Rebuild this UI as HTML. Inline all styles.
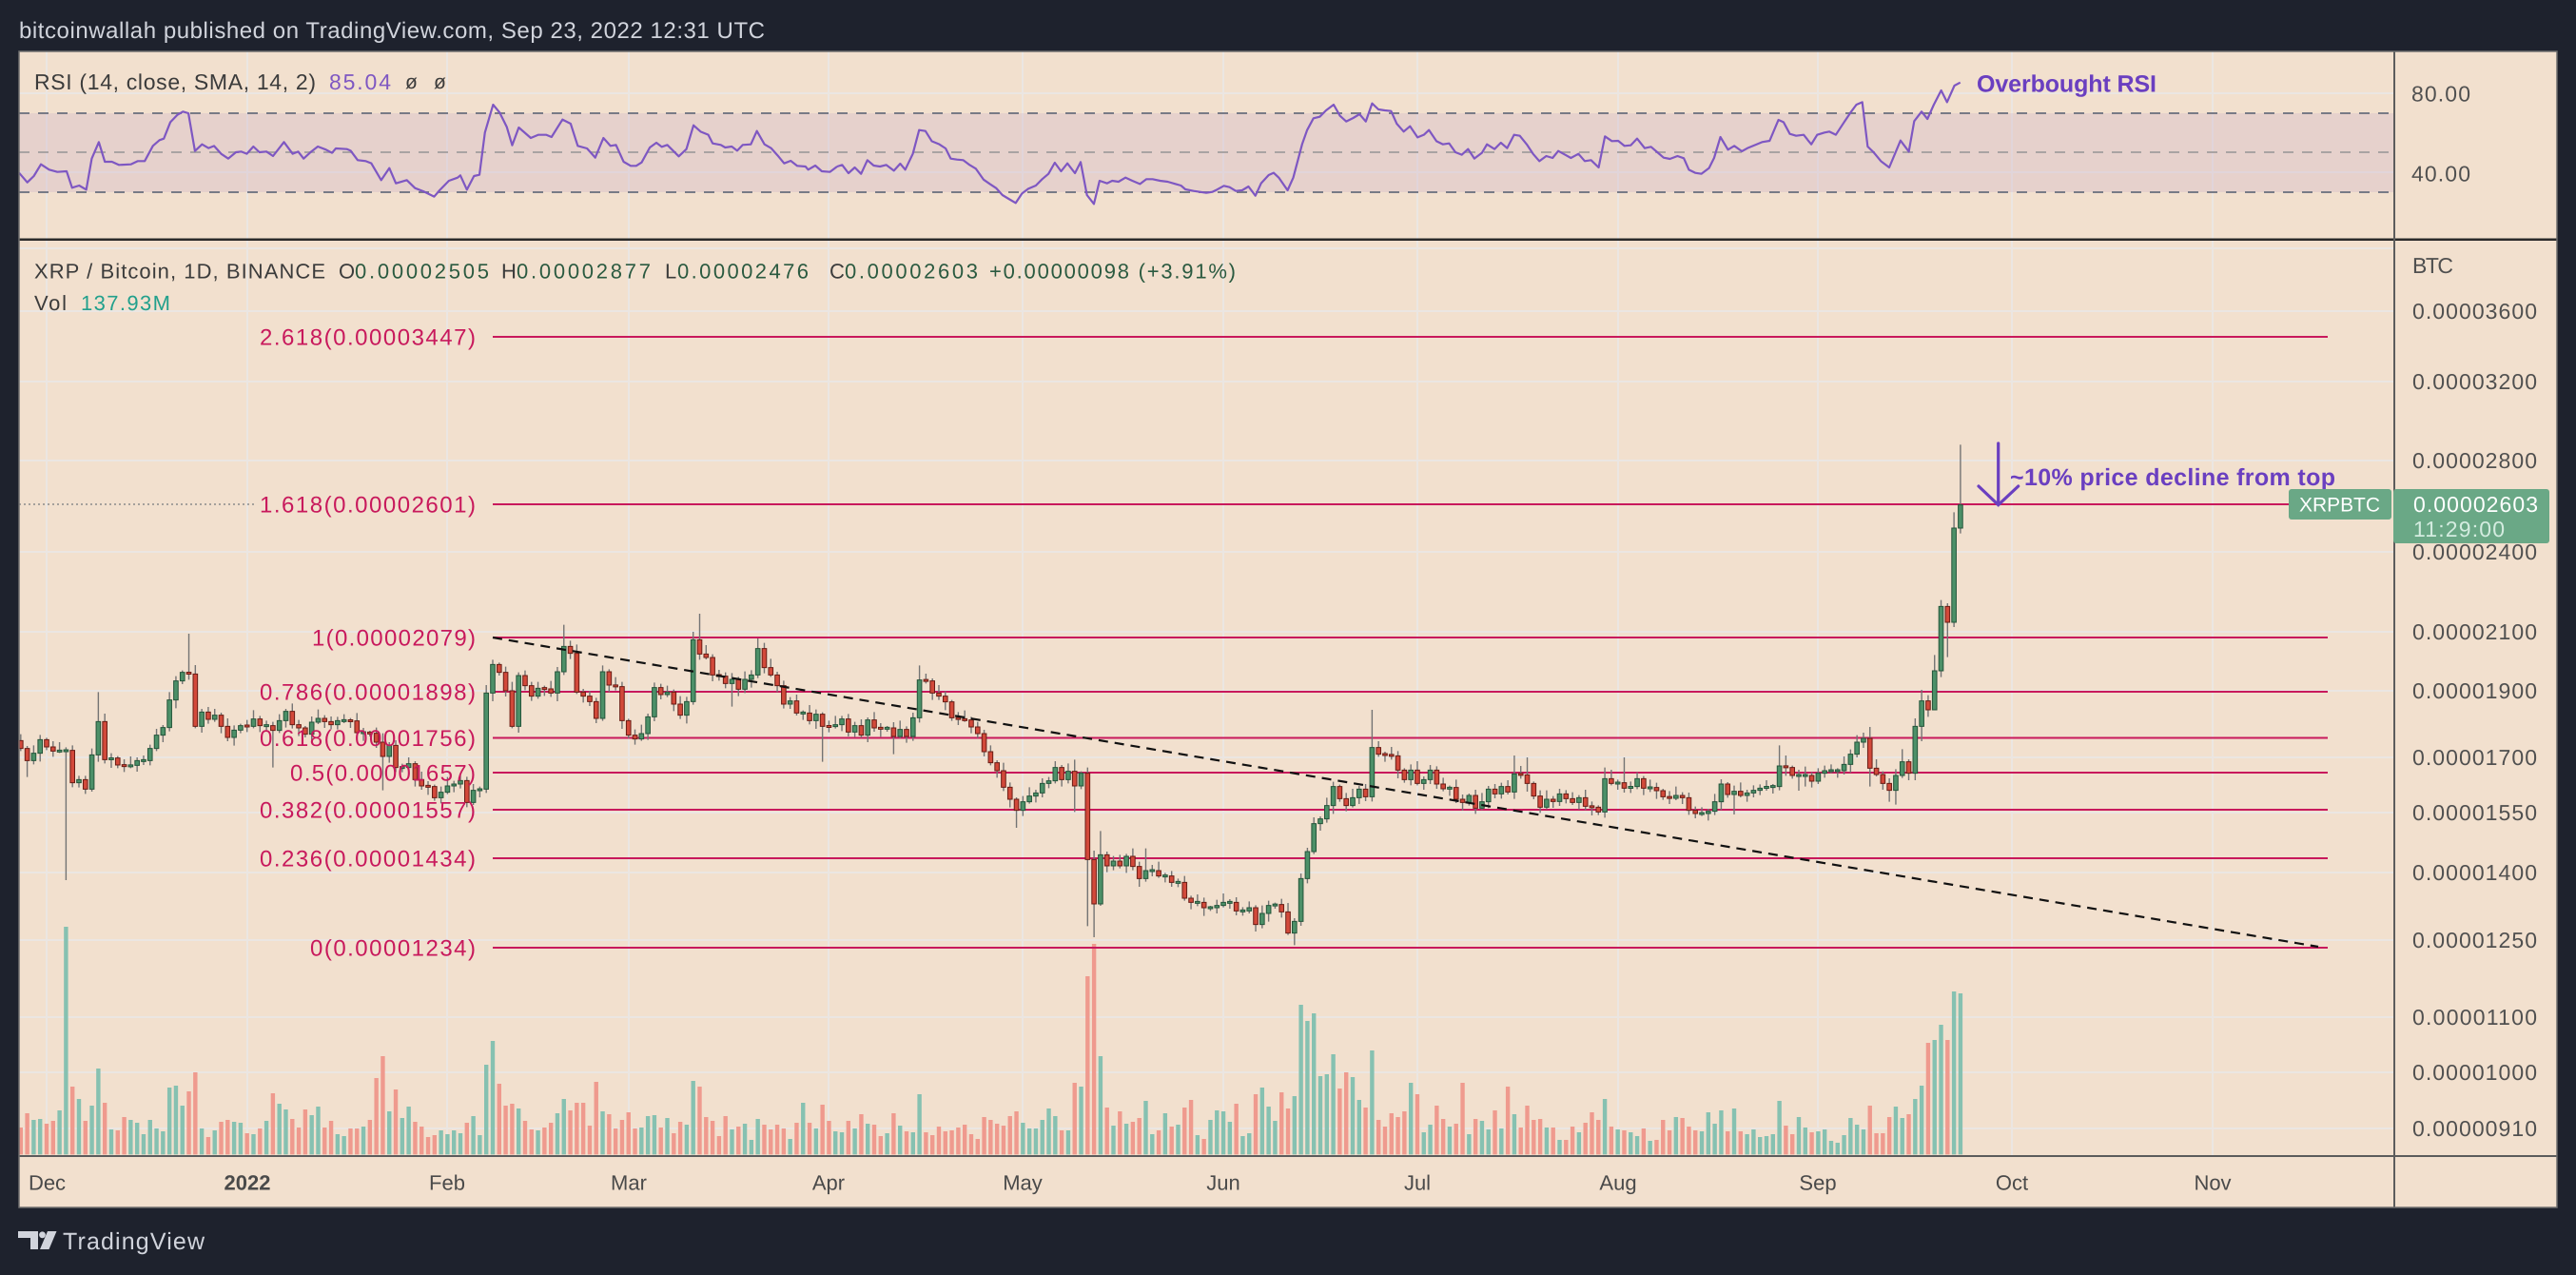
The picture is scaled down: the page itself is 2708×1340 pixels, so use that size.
<!DOCTYPE html>
<html><head><meta charset="utf-8">
<style>html,body{margin:0;padding:0;background:#1e222d;overflow:hidden}svg{display:block}</style>
</head>
<body>
<svg xmlns="http://www.w3.org/2000/svg" width="2708" height="1340" viewBox="0 0 2708 1340" font-family="'Liberation Sans', Arial, sans-serif" text-rendering="geometricPrecision">
<rect width="2708" height="1340" fill="#1e222d"/>
<text x="20" y="40" font-size="24" fill="#d1d4dc" textLength="784">bitcoinwallah published on TradingView.com, Sep 23, 2022 12:31 UTC</text>
<rect x="20" y="54" width="2668" height="1215" fill="#f2e0ce"/>

<!-- grid -->
<g stroke="#ebe6e2" stroke-width="2">
<line x1="20" y1="98" x2="2517" y2="98"/><line x1="20" y1="181" x2="2517" y2="181"/>
<line x1="20" y1="261" x2="2517" y2="261"/><line x1="20" y1="327" x2="2517" y2="327"/>
<line x1="20" y1="401" x2="2517" y2="401"/><line x1="20" y1="484" x2="2517" y2="484"/>
<line x1="20" y1="580" x2="2517" y2="580"/><line x1="20" y1="664" x2="2517" y2="664"/>
<line x1="20" y1="726" x2="2517" y2="726"/><line x1="20" y1="796" x2="2517" y2="796"/>
<line x1="20" y1="854" x2="2517" y2="854"/><line x1="20" y1="917" x2="2517" y2="917"/>
<line x1="20" y1="988" x2="2517" y2="988"/><line x1="20" y1="1069" x2="2517" y2="1069"/>
<line x1="20" y1="1127" x2="2517" y2="1127"/><line x1="20" y1="1186" x2="2517" y2="1186"/>
<line x1="49" y1="54" x2="49" y2="1215"/><line x1="260" y1="54" x2="260" y2="1215"/>
<line x1="470" y1="54" x2="470" y2="1215"/><line x1="661" y1="54" x2="661" y2="1215"/>
<line x1="871" y1="54" x2="871" y2="1215"/><line x1="1075" y1="54" x2="1075" y2="1215"/>
<line x1="1286" y1="54" x2="1286" y2="1215"/><line x1="1490" y1="54" x2="1490" y2="1215"/>
<line x1="1701" y1="54" x2="1701" y2="1215"/><line x1="1911" y1="54" x2="1911" y2="1215"/>
<line x1="2115" y1="54" x2="2115" y2="1215"/><line x1="2326" y1="54" x2="2326" y2="1215"/>
</g>

<!-- RSI band -->
<rect x="20" y="119" width="2497" height="83" fill="rgb(201,176,200)" fill-opacity="0.3"/>
<line x1="20" y1="119" x2="2517" y2="119" stroke="#787b86" stroke-width="2" stroke-dasharray="11 9"/>
<line x1="20" y1="160" x2="2517" y2="160" stroke="#a9a3a3" stroke-width="2" stroke-dasharray="11 9"/>
<line x1="20" y1="202" x2="2517" y2="202" stroke="#787b86" stroke-width="2" stroke-dasharray="11 9"/>

<!-- RSI line -->
<g fill="none" stroke="#7e57c2" stroke-width="2.2" stroke-linejoin="round">
<polyline vector-effect="non-scaling-stroke" transform="scale(0.574053,0.333333)" points="35,545 50,575 62,555 75,518 90,535 105,542 122,540 132,592 145,585 158,598 168,500 181,448 192,510 205,510 218,520 240,518 252,508 265,508 280,460 292,442 300,437 312,385 325,362 335,352 345,357 357,476 370,455 382,467 392,460 405,485 418,500 432,480 442,478 452,485 464,462 475,480 488,478 500,492 520,448 536,485 546,478 556,500 570,478 582,462 597,472 608,482 615,468 635,470 642,475 655,505 670,508 680,515 698,568 713,530 725,578 745,568 760,593 775,603 795,620 805,600 822,570 838,560 843,553 855,598 868,555 878,551 888,418 903,330 915,355 928,400 938,458 950,402 972,435 986,425 1000,425 1010,432 1030,377 1045,390 1058,460 1075,468 1090,497 1105,435 1118,460 1128,457 1142,510 1155,523 1165,523 1175,512 1190,465 1202,450 1212,463 1222,457 1243,493 1257,470 1270,395 1283,415 1297,425 1305,452 1320,457 1328,465 1340,462 1350,475 1360,457 1375,455 1386,413 1400,455 1412,467 1424,490 1436,515 1448,507 1460,523 1475,525 1480,535 1493,522 1505,540 1520,542 1533,525"/>
<polyline vector-effect="non-scaling-stroke" transform="translate(880,60) scale(0.663262,0.333333)" points="0,345 8,340 18,366 28,348 38,368 48,325 58,342 68,345 78,340 90,358 100,336 108,355 120,305 130,230 140,233 150,265 162,275 172,288 180,320 190,323 200,325 210,340 220,352 232,386 242,400 252,413 262,435 272,447 283,460 293,430 303,415 315,405 325,385 335,368 345,333 355,360 365,335 377,366 386,331 396,435 407,463 416,390 428,398 436,390 446,393 457,380 468,390 480,400 490,385 500,385 512,390 524,393 536,400 545,405 552,417 565,422 575,425 585,428 595,425 602,418 613,406 622,410 632,422 642,420 652,408 663,437 672,398 684,372 692,365 700,380 714,420 723,380 737,275 745,230 755,193 765,188 775,168 787,150 797,185 807,203 818,192 828,180 838,203 848,146 858,165 868,168 878,170 887,210 898,235 908,218 920,253 930,245 938,230 950,265 960,275 970,272 980,300 990,308 1000,290 1010,320 1022,302 1030,275 1042,290 1052,270 1062,287 1073,245 1082,248 1093,275 1103,305 1113,328 1124,312 1134,318 1143,296 1154,308 1163,318 1175,305 1185,328 1195,325 1207,348 1217,250 1228,265 1238,264 1248,280 1258,278 1268,257 1280,287 1290,283 1300,300 1310,317 1320,321 1332,312 1342,319 1350,355 1360,365 1370,368 1382,350 1390,318 1400,252 1412,292 1422,280 1434,297 1444,286 1455,277 1466,268 1478,264 1492,198 1500,205 1510,242 1520,248 1532,245 1538,260"/>
<polyline vector-effect="non-scaling-stroke" transform="translate(1900,0) scale(0.515198,0.333333)" points="0,440 8,455 20,425 35,418 45,415 58,425 72,392 88,355 100,330 112,322 123,462 135,480 150,508 167,528 190,443 207,478 218,382 233,352 245,375 258,330 273,285 285,322 300,270 312,260"/>
</g>

<text x="36" y="94" font-size="23" fill="#3b3b3b" textLength="296">RSI (14, close, SMA, 14, 2)</text>
<text x="346" y="94" font-size="23" fill="#7e57c2" textLength="65">85.04</text>
<text x="426" y="93" font-size="21" fill="#3b3b3b">ø</text>
<text x="456" y="93" font-size="21" fill="#3b3b3b">ø</text>
<text x="2078" y="96.7" font-size="25" font-weight="bold" fill="#6a3fc0" textLength="189">Overbought RSI</text>

<!-- volume -->
<g transform="translate(21.812,960) scale(6.797,0.333333)" fill="none" stroke-width="4.4">
<path vector-effect="non-scaling-stroke" stroke="#86c1b1" d="M2 651V760M3 648V760M6 621V760M7 42V760M9 585V760M11 606V760M12 489V760M14 681V760M17 651V760M18 660V760M19 696V760M20 651V760M21 678V760M22 687V760M23 549V760M24 543V760M25 606V760M28 678V760M30 684V760M33 657V760M34 660V760M36 696V760M38 654V760M40 600V760M41 618V760M45 636V760M46 609V760M49 696V760M50 702V760M53 672V760M57 624V760M59 645V760M60 609V760M65 684V760M66 696V760M67 684V760M68 693V760M70 639V760M71 699V760M72 477V760M73 402V760M77 615V760M80 684V760M83 630V760M84 585V760M90 624V760M96 675V760M97 639V760M98 636V760M100 645V760M103 666V760M104 528V760M110 681V760M112 663V760M113 714V760M114 648V760M119 711V760M121 597V760M123 678V760M126 687V760M127 690V760M129 678V760M131 663V760M134 693V760M136 669V760M138 690V760M139 570V760M155 660V760M156 678V760M157 678V760M158 651V760M159 615V760M160 639V760M162 684V760M164 546V760M167 450V760M169 669V760M171 663V760M174 591V760M175 696V760M177 630V760M179 666V760M182 699V760M184 651V760M185 621V760M186 624V760M187 657V760M189 702V760M190 693V760M192 549V760M193 609V760M194 654V760M197 576V760M198 288V760M199 339V760M200 315V760M201 513V760M202 507V760M203 444V760M206 516V760M207 588V760M209 432V760M215 534V760M217 690V760M218 666V760M221 672V760M224 696V760M226 654V760M227 681V760M229 678V760M231 633V760M236 675V760M238 714V760M241 690V760M245 585V760M247 681V760M249 690V760M250 702V760M252 717V760M256 642V760M260 687V760M261 627V760M262 663V760M263 621V760M265 615V760M267 696V760M268 681V760M269 705V760M270 702V760M271 696V760M272 591V760M275 642V760M276 675V760M278 687V760M279 681V760M280 717V760M281 723V760M282 699V760M283 645V760M284 666V760M285 681V760M290 609V760M291 645V760M293 585V760M294 543V760M296 399V760M297 351V760M299 246V760M300 252V760"/>
<path vector-effect="non-scaling-stroke" stroke="#ef9a8e" d="M0 675V760M1 630V760M4 663V760M5 654V760M8 546V760M10 654V760M13 597V760M15 684V760M16 642V760M26 561V760M27 501V760M29 705V760M31 657V760M32 651V760M35 693V760M37 678V760M39 567V760M42 648V760M43 675V760M44 618V760M47 675V760M48 654V760M51 678V760M52 678V760M54 651V760M55 519V760M56 450V760M58 555V760M61 657V760M62 672V760M63 705V760M64 699V760M69 660V760M74 537V760M75 606V760M76 600V760M78 654V760M79 681V760M81 675V760M82 660V760M85 621V760M86 597V760M87 597V760M88 669V760M89 531V760M91 633V760M92 678V760M93 651V760M94 627V760M95 678V760M99 675V760M101 693V760M102 657V760M105 546V760M106 642V760M107 654V760M108 702V760M109 639V760M111 672V760M115 666V760M116 681V760M117 666V760M118 678V760M120 660V760M122 660V760M124 603V760M125 654V760M128 654V760M130 633V760M132 666V760M133 702V760M135 630V760M137 687V760M140 690V760M141 699V760M142 672V760M143 687V760M144 684V760M145 675V760M146 666V760M147 696V760M148 711V760M149 642V760M150 651V760M151 663V760M152 669V760M153 639V760M154 624V760M161 684V760M163 534V760M165 198V760M166 96V760M168 612V760M170 624V760M172 657V760M173 645V760M176 684V760M178 672V760M180 612V760M181 588V760M183 711V760M188 600V760M191 570V760M195 564V760M196 615V760M204 552V760M205 501V760M208 612V760M210 651V760M211 672V760M212 630V760M213 642V760M214 624V760M216 570V760M219 606V760M220 648V760M222 663V760M223 534V760M225 648V760M228 621V760M230 546V760M232 675V760M233 606V760M234 651V760M235 648V760M237 675V760M239 714V760M240 672V760M242 660V760M243 627V760M244 651V760M246 672V760M248 684V760M251 678V760M253 714V760M254 651V760M255 684V760M257 645V760M258 672V760M259 684V760M264 687V760M266 687V760M273 669V760M274 696V760M277 690V760M286 606V760M287 693V760M288 693V760M289 642V760M292 633V760M295 408V760M298 399V760"/>
</g>

<!-- fib lines -->
<g stroke="#c8195c" stroke-width="2">
<line x1="518" y1="354" x2="2447" y2="354"/>
<line x1="518" y1="530" x2="2447" y2="530"/>
<line x1="518" y1="670" x2="2447" y2="670"/>
<line x1="518" y1="727" x2="2447" y2="727"/>
<line x1="518" y1="775.5" x2="2447" y2="775.5"/>
<line x1="518" y1="812" x2="2447" y2="812"/>
<line x1="518" y1="851" x2="2447" y2="851"/>
<line x1="518" y1="902" x2="2447" y2="902"/>
<line x1="518" y1="996" x2="2447" y2="996"/>
</g>
<line x1="20" y1="530" x2="270" y2="530" stroke="#8a8a8a" stroke-width="1.5" stroke-dasharray="2 3"/>

<!-- candles -->
<g transform="translate(21.812,640) scale(6.797,0.333333)">
<path vector-effect="non-scaling-stroke" fill="none" stroke="#747474" stroke-width="1.4" d="M0 395V448M1 432V530M2 430V490M3 397V481M4 406V445M5 417V466M6 420V454M7 436V855M8 430V562M9 526V563M10 526V583M11 440V576M12 262V482M13 330V487M14 455V501M15 464V502M16 474V514M17 465V502M18 468V513M19 462V492M20 428V493M21 378V448M22 366V420M23 262V386M24 212V313M25 194V237M26 78V223M27 177V376M28 315V390M29 309V362M30 315V356M31 327V392M32 345V417M33 367V431M34 362V392M35 350V388M36 319V376M37 337V388M38 352V382M39 356V500M40 332V391M41 315V374M42 298V377M43 350V401M44 369V405M45 339V413M46 317V363M47 335V375M48 339V379M49 340V380M50 332V360M51 344V375M52 328V402M53 375V416M54 384V402M55 374V438M56 392V572M57 420V485M58 414V514M59 488V515M60 468V508M61 480V560M62 513V570M63 543V586M64 554V605M65 560V613M66 530V584M67 542V578M68 525V566M69 529V625M70 552V618M71 560V594M72 240V580M73 160V291M74 169V210M75 182V276M76 230V376M77 200V390M78 194V256M79 230V290M80 230V283M81 242V274M82 227V277M83 183V291M84 50V208M85 100V158M86 112V268M87 252V295M88 259V306M89 280V360M90 178V353M91 190V262M92 215V257M93 230V378M94 346V408M95 380V428M96 365V416M97 330V413M98 232V354M99 236V285M100 242V278M101 254V322M102 275V347M103 277V361M104 72V302M105 15V160M106 114V159M107 143V228M108 192V226M109 200V250M110 202V308M111 214V275M112 197V265M113 193V248M114 93V218M115 107V203M116 157V214M117 198V262M118 226V314M119 278V315M120 270V336M121 320V350M122 303V364M123 317V378M124 326V482M125 352V389M126 337V377M127 337V385M128 331V402M129 356V403M130 348V406M131 342V420M132 325V387M133 360V403M134 369V387M135 357V458M136 352V408M137 370V422M138 327V416M139 178V358M140 204V235M141 219V287M142 240V287M143 260V319M144 287V353M145 325V366M146 320V356M147 340V392M148 356V407M149 381V465M150 430V493M151 477V532M152 485V574M153 547V626M154 594V690M155 590V653M156 562V614M157 570V610M158 534V594M159 530V565M160 480V550M161 492V560M162 487V550M163 475V640M164 512V568M165 500V1000M166 762V1035M167 700V936M168 765V830M169 779V824M170 775V818M171 772V832M172 755V824M173 797V876M174 755V860M175 807V843M176 797V848M177 832V862M178 826V876M179 850V877M180 842V920M181 904V947M182 900V937M183 910V968M184 936V952M185 917V960M186 897V941M187 915V945M188 909V966M189 940V967M190 922V960M191 934V1017M192 935V1007M193 920V986M194 926V945M195 914V973M196 927V1028M197 975V1060M198 834V999M199 753V865M200 657V773M201 654V699M202 595V674M203 545V646M204 554V608M205 580V638M206 567V626M207 558V615M208 552V606M209 318V607M210 417V466M211 450V482M212 435V475M213 448V534M214 502V548M215 490V556M216 480V556M217 528V570M218 492V552M219 496V567M220 532V575M221 557V589M222 538V612M223 585V636M224 582V620M225 570V646M226 580V634M227 558V628M228 552V597M229 548V598M230 540V585M231 462V599M232 495V535M233 468V576M234 544V600M235 572V643M236 572V631M237 590V627M238 567V621M239 571V613M240 578V618M241 587V632M242 570V634M243 607V651M244 619V650M245 500V658M246 507V556M247 538V570M248 468V579M249 544V580M250 515V568M251 527V587M252 538V577M253 548V599M254 567V602M255 574V615M256 560V603M257 578V615M258 579V649M259 623V660M260 625V653M261 630V667M262 583V650M263 537V634M264 546V595M265 557V648M266 547V594M267 570V608M268 556V594M269 553V587M270 540V573M271 552V582M272 430V572M273 462V526M274 494V535M275 507V573M276 497V560M277 515V563M278 502V552M279 494V532M280 490V518M281 502V532M282 465V522M283 443V516M284 398V468M285 390V438M286 372V560M287 474V528M288 512V570M289 534V608M290 505V617M291 442V533M292 474V540M293 345V540M294 255V417M295 272V340M296 145V240M297 -28V215M298 -18V152M299 -305V57M300 -518V-238"/>
<path vector-effect="non-scaling-stroke" fill="#4c9068" stroke="#24553a" stroke-width="1" d="M1.66 455h.68V478h-.68zM2.66 412h.68V455h-.68zM5.66 445h.68V451h-.68zM6.66 444h.68V450h-.68zM8.66 538h.68V548h-.68zM10.66 460h.68V568h-.68zM11.66 355h.68V460h-.68zM13.66 469.5h.68V475.5h-.68zM16.66 491.5h.68V497.5h-.68zM17.66 478h.68V493h-.68zM18.66 475h.68V481h-.68zM19.66 440h.68V478h-.68zM20.66 398h.68V440h-.68zM21.66 374h.68V398h-.68zM22.66 287h.68V374h-.68zM23.66 227h.68V287h-.68zM24.66 200h.68V227h-.68zM27.66 325h.68V370h-.68zM29.66 335h.68V348h-.68zM32.66 382h.68V405h-.68zM33.66 368h.68V382h-.68zM35.66 347h.68V370h-.68zM37.66 365h.68V371h-.68zM39.66 352h.68V383h-.68zM40.66 323h.68V352h-.68zM44.66 357h.68V395h-.68zM45.66 345h.68V357h-.68zM48.66 352h.68V365h-.68zM49.66 349h.68V355h-.68zM52.66 387h.68V393h-.68zM56.66 430h.68V465h-.68zM58.66 497h.68V503h-.68zM59.66 488h.68V500h-.68zM64.66 578h.68V595h-.68zM65.66 558h.68V578h-.68zM66.66 552h.68V558h-.68zM67.66 541h.68V552h-.68zM69.66 572h.68V610h-.68zM70.66 567h.68V573h-.68zM71.66 265h.68V568h-.68zM72.66 175h.68V265h-.68zM76.66 210h.68V370h-.68zM79.66 250h.68V275h-.68zM82.66 198h.68V265h-.68zM83.66 118h.68V198h-.68zM89.66 198h.68V345h-.68zM95.66 393h.68V410h-.68zM96.66 340h.68V393h-.68zM97.66 248h.68V340h-.68zM99.66 262h.68V270h-.68zM102.66 292h.68V335h-.68zM103.66 97h.68V292h-.68zM109.66 222h.68V235h-.68zM111.66 222h.68V253h-.68zM112.66 208h.68V222h-.68zM113.66 125h.68V208h-.68zM118.66 290h.68V300h-.68zM120.66 325h.68V331h-.68zM122.66 332h.68V352h-.68zM125.66 365h.68V371h-.68zM126.66 347h.68V365h-.68zM128.66 368h.68V388h-.68zM130.66 350h.68V398h-.68zM133.66 373h.68V379h-.68zM135.66 380h.68V402h-.68zM137.66 343h.68V402h-.68zM138.66 224h.68V343h-.68zM154.66 608h.68V635h-.68zM155.66 590h.68V608h-.68zM156.66 580h.68V590h-.68zM157.66 550h.68V580h-.68zM158.66 542h.68V550h-.68zM159.66 500h.68V542h-.68zM161.66 512h.68V538h-.68zM163.66 518h.68V558h-.68zM166.66 775h.68V930h-.68zM168.66 795h.68V810h-.68zM170.66 780h.68V810h-.68zM173.66 825h.68V850h-.68zM174.66 822h.68V828h-.68zM176.66 839h.68V845h-.68zM178.66 859h.68V865h-.68zM181.66 922h.68V928h-.68zM183.66 939h.68V945h-.68zM184.66 935h.68V942h-.68zM185.66 925h.68V935h-.68zM186.66 922h.68V928h-.68zM188.66 949h.68V955h-.68zM189.66 942h.68V952h-.68zM191.66 960h.68V995h-.68zM192.66 935h.68V960h-.68zM193.66 930.5h.68V936.5h-.68zM196.66 985h.68V1022h-.68zM197.66 850h.68V985h-.68zM198.66 765h.68V850h-.68zM199.66 677h.68V765h-.68zM200.66 662h.68V677h-.68zM201.66 620h.68V662h-.68zM202.66 560h.68V620h-.68zM205.66 595h.68V620h-.68zM206.66 568h.68V595h-.68zM208.66 437h.68V592h-.68zM214.66 508h.68V538h-.68zM216.66 538h.68V550h-.68zM217.66 508h.68V538h-.68zM220.66 562h.68V568h-.68zM223.66 588h.68V610h-.68zM225.66 608h.68V628h-.68zM226.66 568h.68V608h-.68zM228.66 560h.68V583h-.68zM230.66 520h.68V577h-.68zM235.66 600h.68V625h-.68zM237.66 583h.68V607h-.68zM240.66 595h.68V610h-.68zM244.66 535h.68V640h-.68zM246.66 546h.68V552h-.68zM248.66 559.5h.68V565.5h-.68zM249.66 535h.68V560h-.68zM251.66 561h.68V567h-.68zM255.66 588h.68V597h-.68zM259.66 642h.68V648h-.68zM260.66 638h.68V645h-.68zM261.66 608h.68V638h-.68zM262.66 552h.68V608h-.68zM264.66 575h.68V585h-.68zM266.66 580h.68V588h-.68zM267.66 572h.68V580h-.68zM268.66 565h.68V572h-.68zM269.66 559.5h.68V565.5h-.68zM270.66 557h.68V563h-.68zM271.66 495h.68V560h-.68zM274.66 522h.68V528h-.68zM275.66 522h.68V528h-.68zM277.66 518h.68V543h-.68zM278.66 510h.68V518h-.68zM279.66 507h.68V513h-.68zM280.66 507h.68V513h-.68zM281.66 490h.68V510h-.68zM282.66 458h.68V490h-.68zM283.66 420h.68V458h-.68zM284.66 408h.68V420h-.68zM289.66 525h.68V572h-.68zM290.66 482h.68V525h-.68zM292.66 370h.68V518h-.68zM293.66 290h.68V370h-.68zM295.66 195h.68V318h-.68zM296.66 -8h.68V195h-.68zM298.66 -255h.68V42h-.68zM299.66 -328h.68V-255h-.68z"/>
<path vector-effect="non-scaling-stroke" fill="#d2493a" stroke="#6a1c14" stroke-width="1" d="M-.34 415h.68V440h-.68zM.66 440h.68V478h-.68zM3.66 412h.68V435h-.68zM4.66 435h.68V448h-.68zM7.66 446h.68V548h-.68zM9.66 538h.68V568h-.68zM12.66 355h.68V475h-.68zM14.66 470h.68V492h-.68zM15.66 491h.68V497h-.68zM25.66 199.5h.68V205.5h-.68zM26.66 205h.68V370h-.68zM28.66 325h.68V348h-.68zM30.66 335h.68V370h-.68zM31.66 370h.68V405h-.68zM34.66 366h.68V372h-.68zM36.66 347h.68V368h-.68zM38.66 368h.68V383h-.68zM41.66 323h.68V365h-.68zM42.66 365h.68V375h-.68zM43.66 375h.68V395h-.68zM46.66 345h.68V355h-.68zM47.66 355h.68V365h-.68zM50.66 349.5h.68V355.5h-.68zM51.66 353h.68V390h-.68zM53.66 388h.68V394h-.68zM54.66 392h.68V420h-.68zM55.66 420h.68V465h-.68zM57.66 430h.68V500h-.68zM60.66 488h.68V538h-.68zM61.66 538h.68V558h-.68zM62.66 556h.68V562h-.68zM63.66 560h.68V595h-.68zM68.66 541h.68V610h-.68zM73.66 175h.68V200h-.68zM74.66 200h.68V258h-.68zM75.66 258h.68V370h-.68zM77.66 210h.68V242h-.68zM78.66 242h.68V275h-.68zM80.66 248h.68V254h-.68zM81.66 252h.68V265h-.68zM84.66 118h.68V140h-.68zM85.66 140h.68V262h-.68zM86.66 262h.68V275h-.68zM87.66 275h.68V292h-.68zM88.66 292h.68V345h-.68zM90.66 198h.68V240h-.68zM91.66 239.5h.68V245.5h-.68zM92.66 245h.68V352h-.68zM93.66 352h.68V398h-.68zM94.66 398h.68V410h-.68zM98.66 248h.68V270h-.68zM100.66 262h.68V300h-.68zM101.66 300h.68V335h-.68zM104.66 97h.68V142h-.68zM105.66 142h.68V153h-.68zM106.66 153h.68V208h-.68zM107.66 207h.68V213h-.68zM108.66 212h.68V235h-.68zM110.66 222h.68V253h-.68zM114.66 125h.68V185h-.68zM115.66 185h.68V208h-.68zM116.66 208h.68V242h-.68zM117.66 242h.68V300h-.68zM119.66 290h.68V328h-.68zM121.66 328h.68V352h-.68zM123.66 332h.68V370h-.68zM124.66 367.5h.68V373.5h-.68zM127.66 347h.68V388h-.68zM129.66 368h.68V398h-.68zM131.66 350h.68V375h-.68zM132.66 373h.68V379h-.68zM134.66 375h.68V402h-.68zM136.66 380h.68V402h-.68zM139.66 222.5h.68V228.5h-.68zM140.66 227h.68V265h-.68zM141.66 265h.68V275h-.68zM142.66 275h.68V293h-.68zM143.66 293h.68V343h-.68zM144.66 342.5h.68V348.5h-.68zM145.66 346h.68V352h-.68zM146.66 350h.68V372h-.68zM147.66 372h.68V393h-.68zM148.66 393h.68V450h-.68zM149.66 450h.68V485h-.68zM150.66 485h.68V510h-.68zM151.66 510h.68V562h-.68zM152.66 562h.68V600h-.68zM153.66 600h.68V635h-.68zM160.66 500h.68V538h-.68zM162.66 512h.68V558h-.68zM164.66 518h.68V790h-.68zM165.66 790h.68V930h-.68zM167.66 775h.68V810h-.68zM169.66 795h.68V810h-.68zM171.66 780h.68V812h-.68zM172.66 812h.68V850h-.68zM175.66 825h.68V842h-.68zM177.66 842h.68V862h-.68zM179.66 862h.68V912h-.68zM180.66 912h.68V925h-.68zM182.66 925h.68V942h-.68zM187.66 925h.68V952h-.68zM190.66 942h.68V995h-.68zM194.66 932h.68V955h-.68zM195.66 955h.68V1022h-.68zM203.66 560h.68V598h-.68zM204.66 598h.68V620h-.68zM207.66 568h.68V592h-.68zM209.66 437h.68V458h-.68zM210.66 456h.68V462h-.68zM211.66 458.5h.68V464.5h-.68zM212.66 463h.68V508h-.68zM213.66 508h.68V538h-.68zM215.66 508h.68V550h-.68zM218.66 508h.68V552h-.68zM219.66 552h.68V567h-.68zM221.66 563h.68V600h-.68zM222.66 600h.68V610h-.68zM224.66 588h.68V628h-.68zM227.66 568h.68V583h-.68zM229.66 560h.68V577h-.68zM231.66 518.5h.68V524.5h-.68zM232.66 523h.68V550h-.68zM233.66 550h.68V590h-.68zM234.66 590h.68V625h-.68zM236.66 600h.68V607h-.68zM238.66 583h.68V598h-.68zM239.66 598h.68V610h-.68zM241.66 595h.68V622h-.68zM242.66 620.5h.68V626.5h-.68zM243.66 625h.68V640h-.68zM245.66 535h.68V550h-.68zM247.66 548h.68V565h-.68zM250.66 535h.68V565h-.68zM252.66 563h.68V573h-.68zM253.66 573h.68V592h-.68zM254.66 591.5h.68V597.5h-.68zM256.66 588h.68V595h-.68zM257.66 595h.68V635h-.68zM258.66 635h.68V645h-.68zM263.66 552h.68V585h-.68zM265.66 575h.68V588h-.68zM272.66 494.5h.68V500.5h-.68zM273.66 500h.68V525h-.68zM276.66 525h.68V543h-.68zM285.66 408h.68V502h-.68zM286.66 502h.68V522h-.68zM287.66 522h.68V550h-.68zM288.66 550h.68V572h-.68zM291.66 482h.68V518h-.68zM294.66 290h.68V318h-.68zM297.66 -8h.68V42h-.68z"/>
</g>

<!-- trendline -->
<line x1="518" y1="670" x2="2437" y2="995" stroke="#111" stroke-width="2.2" stroke-dasharray="10 7"/>

<!-- fib labels -->
<g font-size="24" fill="#c8195c" text-anchor="end">
<text x="500" y="362.5" textLength="227">2.618(0.00003447)</text>
<text x="500" y="538.5" textLength="227">1.618(0.00002601)</text>
<text x="500" y="678.5" textLength="172">1(0.00002079)</text>
<text x="500" y="735.5" textLength="227">0.786(0.00001898)</text>
<text x="500" y="784" textLength="227">0.618(0.00001756)</text>
<text x="500" y="820.5" textLength="195">0.5(0.00001657)</text>
<text x="500" y="859.5" textLength="227">0.382(0.00001557)</text>
<text x="500" y="910.5" textLength="227">0.236(0.00001434)</text>
<text x="500" y="1004.5" textLength="174">0(0.00001234)</text>
</g>

<!-- header -->
<text x="36" y="292.7" font-size="22" fill="#3b3b3b" textLength="306">XRP / Bitcoin, 1D, BINANCE</text>
<text x="356" y="292.7" font-size="22" fill="#3b3b3b">O</text>
<text x="373" y="292.7" font-size="22" fill="#2b5a40" textLength="141">0.00002505</text>
<text x="527" y="292.7" font-size="22" fill="#3b3b3b">H</text>
<text x="543" y="292.7" font-size="22" fill="#2b5a40" textLength="141">0.00002877</text>
<text x="699" y="292.7" font-size="22" fill="#3b3b3b">L</text>
<text x="712" y="292.7" font-size="22" fill="#2b5a40" textLength="138">0.00002476</text>
<text x="872" y="292.7" font-size="22" fill="#3b3b3b">C</text>
<text x="888" y="292.7" font-size="22" fill="#2b5a40" textLength="140">0.00002603</text>
<text x="1040" y="292.7" font-size="22" fill="#2b5a40" textLength="259">+0.00000098 (+3.91%)</text>
<text x="36" y="326" font-size="22" fill="#3b3b3b" textLength="34">Vol</text>
<text x="85" y="326" font-size="22" fill="#22a08c" textLength="94">137.93M</text>

<!-- annotation -->
<g stroke="#6a3fc0" stroke-width="3.2" fill="none" stroke-linecap="round">
<line x1="2100.7" y1="466" x2="2100.7" y2="530"/>
<polyline points="2080,511 2100.7,530.7 2121.7,511"/>
</g>
<text x="2113" y="510" font-size="25" font-weight="bold" fill="#6a3fc0" textLength="342">~10% price decline from top</text>

<!-- separators / frame -->
<rect x="20" y="250.5" width="2668" height="2.5" fill="#2b2b2b"/>
<line x1="2517" y1="54" x2="2517" y2="1269" stroke="#5c5c5c" stroke-width="2"/>
<line x1="20" y1="1215" x2="2688" y2="1215" stroke="#5c5c5c" stroke-width="2"/>
<rect x="20" y="54" width="2668" height="1215" fill="none" stroke="#6e6e6e" stroke-width="1.5"/>

<!-- axis labels -->
<g font-size="23" fill="#505050">
<text x="2535" y="106.3" textLength="62">80.00</text>
<text x="2535" y="190.3" textLength="62">40.00</text>
<text x="2536" y="287" textLength="43">BTC</text>
<text x="2536" y="335" textLength="131">0.00003600</text>
<text x="2536" y="409" textLength="131">0.00003200</text>
<text x="2536" y="492" textLength="131">0.00002800</text>
<text x="2536" y="588" textLength="131">0.00002400</text>
<text x="2536" y="672" textLength="131">0.00002100</text>
<text x="2536" y="734" textLength="131">0.00001900</text>
<text x="2536" y="804" textLength="131">0.00001700</text>
<text x="2536" y="862" textLength="131">0.00001550</text>
<text x="2536" y="925" textLength="131">0.00001400</text>
<text x="2536" y="996" textLength="131">0.00001250</text>
<text x="2536" y="1077" textLength="131">0.00001100</text>
<text x="2536" y="1135" textLength="131">0.00001000</text>
<text x="2536" y="1194" textLength="131">0.00000910</text>
</g>

<!-- price labels -->
<rect x="2406" y="514" width="108" height="32" rx="3" fill="#6aa886"/>
<text x="2417" y="537.5" font-size="21" fill="#ffffff" textLength="85">XRPBTC</text>
<rect x="2516" y="514" width="164" height="57" rx="3" fill="#6aa886"/>
<text x="2537" y="538" font-size="23" fill="#ffffff" textLength="131">0.00002603</text>
<text x="2537" y="564" font-size="23" fill="#d4ece0" textLength="96">11:29:00</text>

<!-- time axis -->
<g font-size="22" fill="#4a4a4a" text-anchor="middle">
<text x="49.5" y="1250.5">Dec</text>
<text x="260" y="1250.5" font-weight="bold">2022</text>
<text x="470" y="1250.5">Feb</text>
<text x="661" y="1250.5">Mar</text>
<text x="871" y="1250.5">Apr</text>
<text x="1075" y="1250.5">May</text>
<text x="1286" y="1250.5">Jun</text>
<text x="1490" y="1250.5">Jul</text>
<text x="1701" y="1250.5">Aug</text>
<text x="1911" y="1250.5">Sep</text>
<text x="2115" y="1250.5">Oct</text>
<text x="2326" y="1250.5">Nov</text>
</g>

<!-- TradingView logo -->
<g fill="#d1d4dc">
<path d="M19 1294h21v19h-8v-12h-13z"/>
<circle cx="44.5" cy="1297.8" r="3.4"/>
<path d="M50 1294h9.5l-8 19h-9.5z"/>
</g>
<text x="66" y="1313" font-size="25" fill="#d1d4dc" textLength="149">TradingView</text>
</svg>
</body></html>
